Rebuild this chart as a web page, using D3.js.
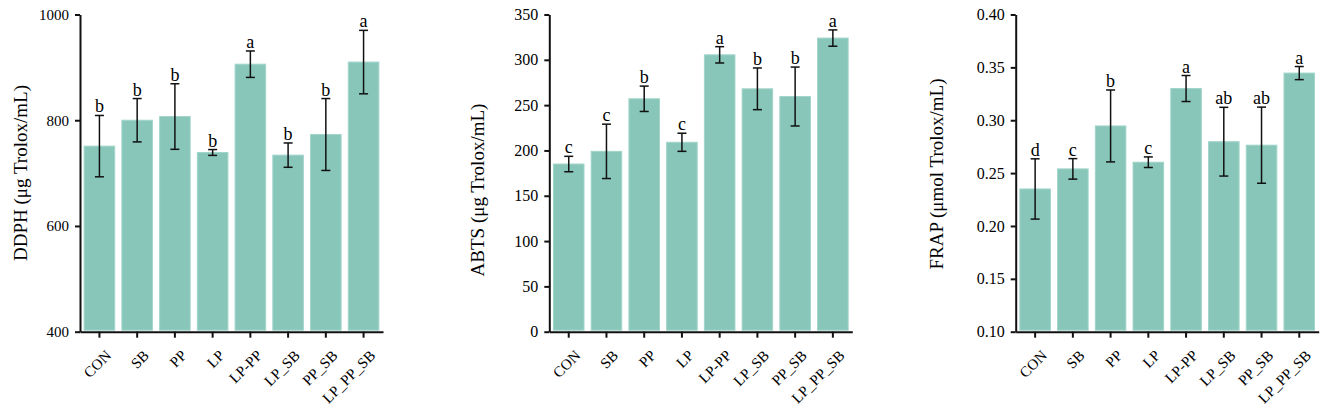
<!DOCTYPE html>
<html>
<head>
<meta charset="utf-8">
<script src="https://cdn.jsdelivr.net/npm/d3@7"></script>
<style>
  body { margin: 0; background: #fff; }
  svg text { font-family: "Liberation Serif", "Times New Roman", serif; fill: #000; }
</style>
</head>
<body>
<svg id="SVG_CONTAINER" width="1325" height="413"></svg>
<script>
let d3 = window.d3;

// groups on the x axis
let groups = ["CON", "SB", "PP", "LP", "LP-PP", "LP_SB", "PP_SB", "LP_PP_SB"];

// DPPH
let dpph_mean = [751, 800, 807, 739, 906, 734, 773, 910];
let dpph_err = [58, 41, 62, 5.5, 25, 23, 68, 60];
let dpph_sig = ["b", "b", "b", "b", "a", "b", "b", "a"];
let dpph_ticks = [400, 600, 800, 1000];

// ABTS
let abts_mean = [185, 199, 257, 209, 305.5, 268, 259.5, 324];
let abts_err = [8.5, 30, 14, 10, 9, 23, 32.5, 9];
let abts_sig = ["c", "c", "b", "c", "a", "b", "b", "a"];
let abts_ticks = [0, 50, 100, 150, 200, 250, 300, 350];

// FRAP
let frap_mean = [0.235, 0.254, 0.2946, 0.2603, 0.330, 0.2797, 0.2764, 0.3446];
let frap_err = [0.0285, 0.0097, 0.034, 0.005, 0.0123, 0.0325, 0.036, 0.0062];
let frap_sig = ["d", "c", "b", "c", "a", "ab", "ab", "a"];
let frap_ticks = [0.10, 0.15, 0.20, 0.25, 0.30, 0.35, 0.40];

const TOP = 14.5, BOTTOM = 331.7;
const BAR_FILL = "#88c6b9", BAR_STROKE = "#a2d5ca";

let panels = [
  { x0: 80,     label: "DDPH (μg Trolox/mL)",   labelX: 20.5,  labelY: 173, tickFont: 15,
    mean: dpph_mean, err: dpph_err, sig: dpph_sig, ticks: dpph_ticks, fmt: d3.format("d") },
  { x0: 549.3,  label: "ABTS (μg Trolox/mL)",   labelX: 477.5, labelY: 190, tickFont: 16,
    mean: abts_mean, err: abts_err, sig: abts_sig, ticks: abts_ticks, fmt: d3.format("d") },
  { x0: 1015.7, label: "FRAP (μmol Trolox/mL)", labelX: 936.5, labelY: 174, tickFont: 16,
    mean: frap_mean, err: frap_err, sig: frap_sig, ticks: frap_ticks, fmt: d3.format(".2f") }
];

let svg = d3.select("#SVG_CONTAINER");

panels.forEach(function (p) {
  let yScale = d3.scaleLinear()
    .domain([p.ticks[0], p.ticks[p.ticks.length - 1]])
    .range([BOTTOM, TOP]);

  let xScale = d3.scaleBand()
    .domain(groups)
    .range([p.x0, p.x0 + 303])
    .paddingInner(0.19)
    .paddingOuter(0.11);

  let g = svg.append("g");

  // bars
  g.selectAll("rect.bar")
    .data(groups)
    .enter()
    .append("rect")
      .attr("class", "bar")
      .attr("x", d => xScale(d))
      .attr("width", xScale.bandwidth())
      .attr("y", (d, i) => yScale(p.mean[i]))
      .attr("height", (d, i) => BOTTOM - 1.5 - yScale(p.mean[i]))
      .attr("fill", BAR_FILL)
      .attr("stroke", BAR_STROKE)
      .attr("stroke-width", 1);

  // error bars
  let cx = d => xScale(d) + xScale.bandwidth() / 2;
  let eb = g.selectAll("g.err")
    .data(groups)
    .enter()
    .append("g")
      .attr("class", "err")
      .attr("stroke", "#111")
      .attr("stroke-width", 1.5);
  eb.append("line")
    .attr("x1", cx).attr("x2", cx)
    .attr("y1", (d, i) => yScale(p.mean[i] + p.err[i]))
    .attr("y2", (d, i) => yScale(p.mean[i] - p.err[i]));
  eb.append("line")
    .attr("x1", d => cx(d) - 4.5).attr("x2", d => cx(d) + 4.5)
    .attr("y1", (d, i) => yScale(p.mean[i] + p.err[i]))
    .attr("y2", (d, i) => yScale(p.mean[i] + p.err[i]));
  eb.append("line")
    .attr("x1", d => cx(d) - 4.5).attr("x2", d => cx(d) + 4.5)
    .attr("y1", (d, i) => yScale(p.mean[i] - p.err[i]))
    .attr("y2", (d, i) => yScale(p.mean[i] - p.err[i]));

  // significance letters
  g.selectAll("text.sig")
    .data(groups)
    .enter()
    .append("text")
      .attr("class", "sig")
      .attr("x", cx)
      .attr("y", (d, i) => yScale(p.mean[i] + p.err[i]) - 3)
      .attr("text-anchor", "middle")
      .attr("font-size", "18px")
      .text((d, i) => p.sig[i]);

  // y axis
  let yAxis = d3.axisLeft(yScale)
    .tickValues(p.ticks)
    .tickFormat(p.fmt)
    .tickSize(5)
    .tickSizeOuter(0)
    .tickPadding(6);
  let ya = g.append("g")
    .attr("transform", "translate(" + p.x0 + ",0)")
    .call(yAxis);
  ya.select(".domain").attr("stroke-width", 2).attr("stroke", "#111");
  ya.selectAll(".tick line").attr("stroke-width", 2).attr("stroke", "#111");
  ya.selectAll("text")
    .attr("font-size", p.tickFont + "px")
    .attr("font-family", "Liberation Serif, serif")
    .attr("fill", "#000");

  // x axis
  let xAxis = d3.axisBottom(xScale)
    .tickSize(6)
    .tickSizeOuter(0);
  let xa = g.append("g")
    .attr("transform", "translate(0," + BOTTOM + ")")
    .call(xAxis);
  xa.select(".domain").attr("stroke-width", 2).attr("stroke", "#111");
  xa.selectAll(".tick line").attr("stroke-width", 2).attr("stroke", "#111");
  xa.selectAll("text")
    .attr("x", 0).attr("y", 0)
    .attr("dy", "0.35em")
    .attr("transform", "translate(9,21) rotate(-45)")
    .style("text-anchor", "end")
    .attr("font-size", "15px")
    .attr("font-family", "Liberation Serif, serif")
    .attr("fill", "#000");

  // y axis label
  svg.append("text")
    .attr("transform", "translate(" + p.labelX + "," + p.labelY + ") rotate(-90)")
    .attr("text-anchor", "middle")
    .attr("dy", "0.35em")
    .attr("font-size", "19px")
    .text(p.label);
});
</script>
</body>
</html>
